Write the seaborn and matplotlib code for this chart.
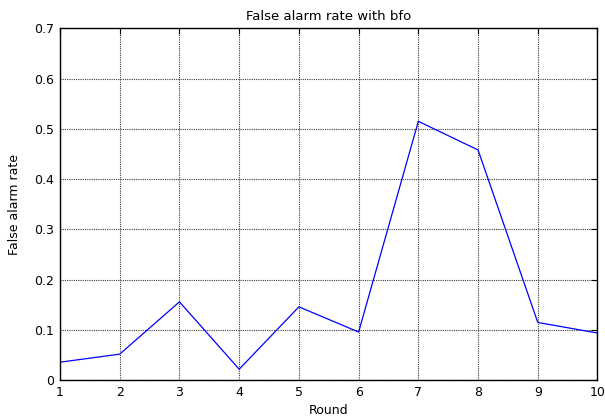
import matplotlib
matplotlib.use("Agg")
import matplotlib.pyplot as plt
import seaborn as sns
import pandas as pd

rounds = [1, 2, 3, 4, 5, 6, 7, 8, 9, 10]
false_alarm = [0.036, 0.052, 0.156, 0.022, 0.146, 0.096, 0.515, 0.458, 0.115, 0.094]
y_ticks = [0, 0.1, 0.2, 0.3, 0.4, 0.5, 0.6, 0.7]
y_tick_labels = ["0", "0.1", "0.2", "0.3", "0.4", "0.5", "0.6", "0.7"]

sns.set_theme(style="white")
plt.rcParams["font.family"] = ["DejaVu Sans"]
plt.rcParams["text.color"] = "black"
plt.rcParams["axes.labelcolor"] = "black"

df = pd.DataFrame({"Round": rounds, "rate": false_alarm})

fig = plt.figure(figsize=(6.05, 4.19), dpi=100)
ax = fig.add_axes([0.0992, 0.0924, 0.8884, 0.8401])

sns.lineplot(data=df, x="Round", y="rate", ax=ax, color="#0000ff", linewidth=0.9)

ax.set_xlim(1, 10)
ax.set_ylim(0, 0.7)
ax.set_xticks(rounds)
ax.set_xticklabels([str(r) for r in rounds])
ax.set_yticks(y_ticks)
ax.set_yticklabels(y_tick_labels)

ax.grid(True, color="#3c3c3c", linestyle=(0, (1, 1)), linewidth=0.8)
ax.set_axisbelow(True)

for s in ax.spines.values():
    s.set_color("black")
    s.set_linewidth(1.0)

ax.tick_params(axis="both", direction="in", length=4, width=0.8, colors="black",
               labelcolor="black", labelsize=9, top=True, right=True, pad=4)

ax.set_title("False alarm rate with bfo", fontsize=9.5, pad=6, color="black")
ax.set_xlabel("Round", fontsize=9, labelpad=4, color="black")
ax.set_ylabel("False alarm rate", fontsize=9, labelpad=10, color="black")

fig.savefig("out.png", dpi=100, facecolor="white")
